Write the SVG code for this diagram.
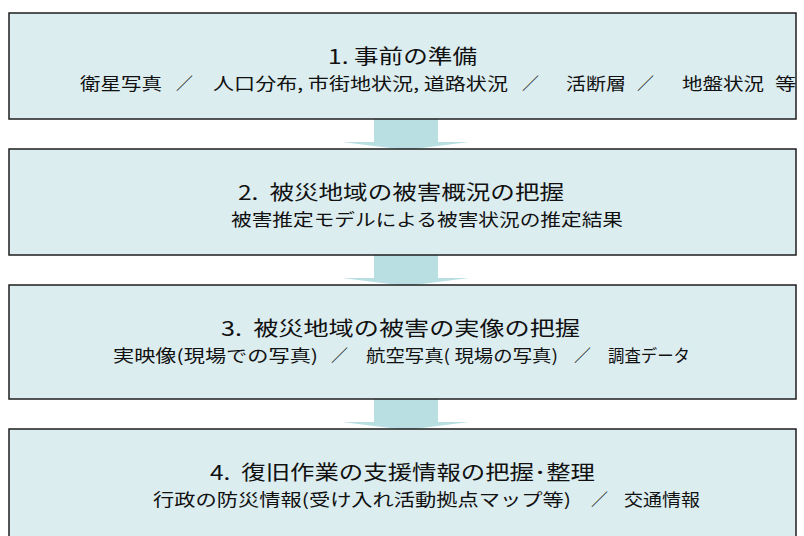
<svg xmlns="http://www.w3.org/2000/svg" width="804" height="536" viewBox="0 0 804 536">
<style>
.box{fill:#dcedf0;stroke:#1e1e1e;stroke-width:1.5}
.arrow{fill:#b9dfe3;stroke:none}
text{font-family:"Noto Sans CJK JP","Noto Sans CJK SC",sans-serif;fill:#111;white-space:pre}
.t{font-size:20px}
.s{font-size:17px}
</style>
<rect x="0" y="0" width="804" height="536" fill="#ffffff"/>
<g id="connectors">
<polygon class="arrow" points="374,119 438,119 438,142 469,142 406,150 342,142 374,142"/>
<polygon class="arrow" points="374,255 438,255 438,278 469,278 406,286 342,278 374,278"/>
<polygon class="arrow" points="374,399 438,399 438,422 469,422 406,430 342,422 374,422"/>
</g>
<g id="node1">
<rect class="box" x="9" y="13" width="787" height="106"/>
<text class="t" x="328" y="64" textLength="149" lengthAdjust="spacingAndGlyphs">1. 事前の準備</text>
<text class="s" x="80" y="90" textLength="82" lengthAdjust="spacingAndGlyphs">衛星写真</text>
<text class="s" x="176" y="90" textLength="17" lengthAdjust="spacingAndGlyphs">／</text>
<text class="s" x="213" y="90" textLength="295" lengthAdjust="spacingAndGlyphs">人口分布, 市街地状況, 道路状況</text>
<text class="s" x="522" y="90" textLength="17" lengthAdjust="spacingAndGlyphs">／</text>
<text class="s" x="566" y="90" textLength="60" lengthAdjust="spacingAndGlyphs">活断層</text>
<text class="s" x="637" y="90" textLength="17" lengthAdjust="spacingAndGlyphs">／</text>
<text class="s" x="682" y="90" textLength="82" lengthAdjust="spacingAndGlyphs">地盤状況</text>
<text class="s" x="775" y="90" textLength="21" lengthAdjust="spacingAndGlyphs">等</text>
</g>
<g id="node2">
<rect class="box" x="9" y="149" width="787" height="106"/>
<text class="t" x="238" y="200" textLength="326" lengthAdjust="spacingAndGlyphs">2.  被災地域の被害概況の把握</text>
<text class="s" x="231" y="226" textLength="392" lengthAdjust="spacingAndGlyphs">被害推定モデルによる被害状況の推定結果</text>
</g>
<g id="node3">
<rect class="box" x="9" y="285" width="787" height="114"/>
<text class="t" x="221" y="336" textLength="359" lengthAdjust="spacingAndGlyphs">3.  被災地域の被害の実像の把握</text>
<text class="s" x="113" y="362" textLength="205" lengthAdjust="spacingAndGlyphs">実映像(現場での写真)</text>
<text class="s" x="331" y="362" textLength="17" lengthAdjust="spacingAndGlyphs">／</text>
<text class="s" x="366" y="362" textLength="192" lengthAdjust="spacingAndGlyphs">航空写真( 現場の写真)</text>
<text class="s" x="574" y="362" textLength="17" lengthAdjust="spacingAndGlyphs">／</text>
<text class="s" x="608" y="362" textLength="82" lengthAdjust="spacingAndGlyphs">調査データ</text>
</g>
<g id="node4">
<rect class="box" x="9" y="429" width="787" height="120"/>
<text class="t" x="210" y="480" textLength="385" lengthAdjust="spacingAndGlyphs">4.  復旧作業の支援情報の把握･整理</text>
<text class="s" x="153" y="506" textLength="418" lengthAdjust="spacingAndGlyphs">行政の防災情報(受け入れ活動拠点マップ等)</text>
<text class="s" x="591" y="506" textLength="17" lengthAdjust="spacingAndGlyphs">／</text>
<text class="s" x="624" y="506" textLength="76" lengthAdjust="spacingAndGlyphs">交通情報</text>
</g>
</svg>
